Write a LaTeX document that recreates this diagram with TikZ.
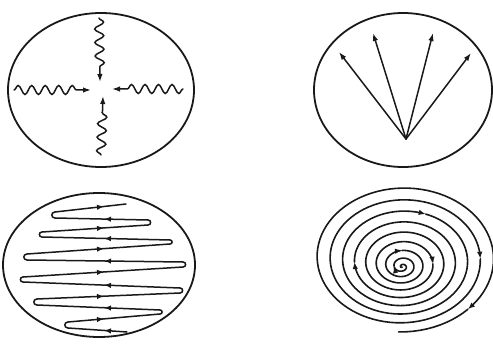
\documentclass[tikz,border=0pt]{standalone}
\usetikzlibrary{arrows.meta,decorations.pathmorphing,decorations.markings}
\colorlet{ink}{black!90}

\begin{document}
\begin{tikzpicture}[x=1pt, y=-1pt, line cap=round,
    rim/.style={draw=ink, line width=1.8pt},
    ray/.style={draw=ink, line width=1.5pt, -{Latex[length=8pt,width=5.5pt]}},
    wave/.style={ray, decorate, decoration={snake, amplitude=4.5pt,
      segment length=13.5pt, post length=11pt}},
    flow/.style={draw=ink, line width=1.5pt, postaction={decorate},
      decoration={markings, mark=at position #1 with
        {\arrow{Latex[length=7pt,width=5.5pt]}}}},
    coil/.style={draw=ink, line width=1.6pt},
    declare function={sr(\t)=(\t/3270)^1.3;
      spx(\t)=402+95*sr(\t)*cos(\t+62);
      spy(\t)=267-10*sr(\t)+75*sr(\t)*sin(\t+62);}]
  \useasboundingbox (0,0) rectangle (493,345);

  % four waves into one point
  \draw[rim] (101,90) ellipse [x radius=93, y radius=77];
  \foreach \n/\x/\y in {wl/14/90, wr/183/89, wt/99/18, wb/101/155,
                         tl/91/90, tr/112/89, tt/100/82, tb/103/96}
    \coordinate (\n) at (\x,\y);
  \foreach \a/\b in {wl/tl, wr/tr, wt/tt, wb/tb}
    \draw[wave] (\a) -- (\b);

  % fan of rays
  \draw[rim] (403,90) ellipse [x radius=89, y radius=77];
  \coordinate (src) at (406,139);
  \foreach \n/\x/\y in {r1/339/52, r2/373/33, r3/433/33, r4/471/53}{
    \coordinate (\n) at (\x,\y);
    \draw[ray] (src) -- (\n);}

  % zigzag
  \draw[rim] (99,265) ellipse [x radius=96, y radius=72];
  \foreach \xa/\ya/\xb/\yb in {127/332/68/328, 68/322/160/314,
      160/310/37/305, 37/299/180/293, 180/288/23/282, 23/277/183/267,
      183/262/27/260, 27/254/170/244, 170/240/42/237, 42/232/148/225,
      148/220/55/218, 55/212/126/204}{
    \pgfmathsetmacro\p{(104-\xa)/(\xb-\xa)}
    \draw[flow=\p] (\xa,\ya) -- (\xb,\yb);}
  \foreach \x/\ya/\yb/\d in {68/328/322/180, 160/314/310/0, 37/305/299/180,
      180/293/288/0, 23/282/277/180, 183/267/262/0, 27/260/254/180,
      170/244/240/0, 42/237/232/180, 148/225/220/0, 55/218/212/180}
    \draw[ink, line width=1.5pt] (\x,\ya) to[out=\d, in=\d, looseness=1.8] (\x,\yb);

  % spiral
  \foreach \a/\b in {5/478, 478/928, 928/1378, 1378/1918, 1918/2390,
      2390/2818, 2818/3223}
    \draw[coil, -{Latex[length=7pt,width=5.5pt]}]
      plot[domain=\a:\b, samples=100, variable=\t] ({spx(\t)},{spy(\t)});
  \draw[coil] plot[domain=3223:3270, samples=12, variable=\t] ({spx(\t)},{spy(\t)});
\end{tikzpicture}
\end{document}
